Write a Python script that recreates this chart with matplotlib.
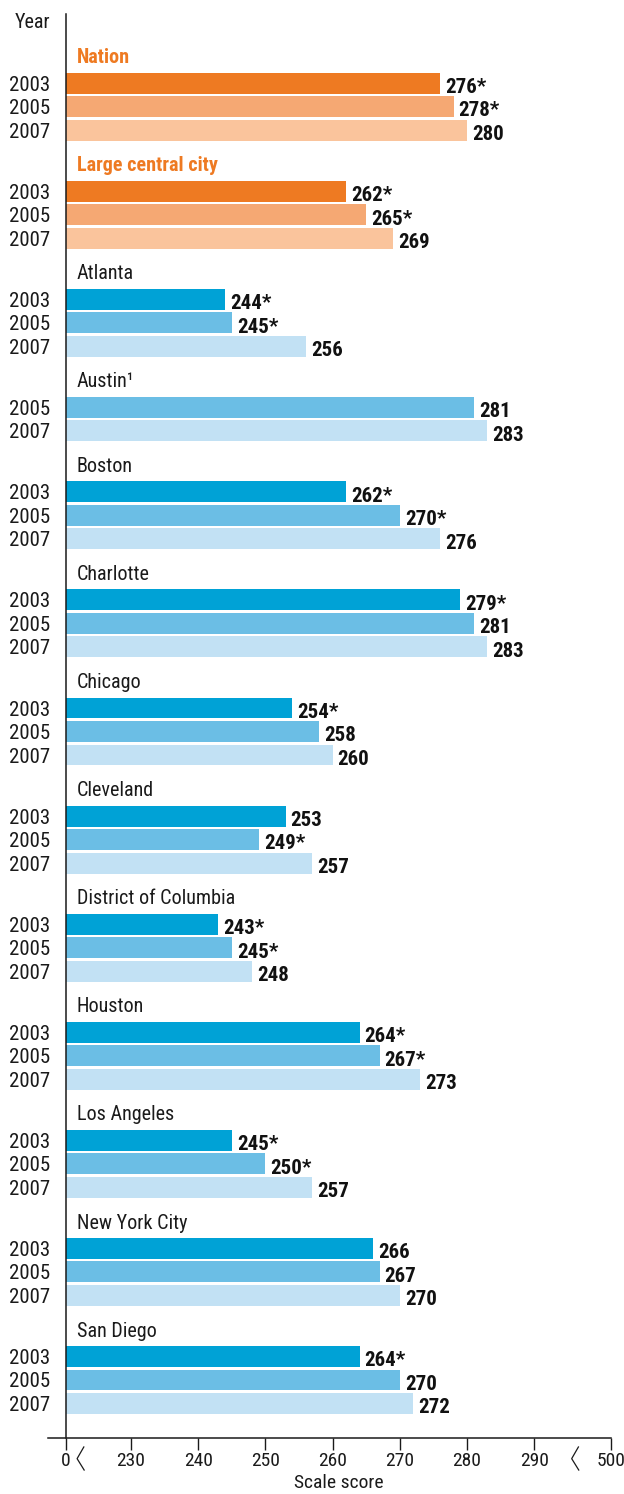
import matplotlib
matplotlib.use("Agg")
import matplotlib.pyplot as plt

plt.rcParams['font.family'] = ['Roboto Condensed', 'Archivo Narrow', 'PT Sans Narrow',
                               'Liberation Sans Narrow', 'DejaVu Sans']

# data
groups = ["Nation", "Large central city", "Atlanta", "Austin\u00b9", "Boston", "Charlotte",
          "Chicago", "Cleveland", "District of Columbia", "Houston", "Los Angeles",
          "New York City", "San Diego"]
years = ["2003", "2005", "2007"]
scores_2003 = [276, 262, 244, None, 262, 279, 254, 253, 243, 264, 245, 266, 264]
scores_2005 = [278, 265, 245, 281, 270, 281, 258, 249, 245, 267, 250, 267, 270]
scores_2007 = [280, 269, 256, 283, 276, 283, 260, 257, 248, 273, 257, 270, 272]
signif_2003 = [True, True, True, False, True, True, True, False, True, True, True, False, True]
signif_2005 = [True, True, True, False, True, False, False, True, True, True, True, False, False]
signif_2007 = [False] * 13
highlight = ["Nation", "Large central city"]
tick_values = [0, 230, 240, 250, 260, 270, 280, 290, 500]

orange = ["#ee7a22", "#f5a873", "#fac49c"]
blue = ["#00a2d6", "#6bbee5", "#c2e1f4"]
title_orange = "#ee7a22"
ink = "#1a1a1a"


# broken axis: 0 | 230..290 | 500
def to_pos(v):
    if v == 0:
        return 0.0
    if v == 500:
        return 81.1
    return v - 220.32


fig = plt.figure(figsize=(6.24, 14.94), dpi=100)
W, H = 624, 1494
ax = fig.add_axes([48 / W, (H - 1438) / H, (611 - 48) / W, (1438 - 14) / H])

series = [scores_2003, scores_2005, scores_2007]
signif = [signif_2003, signif_2005, signif_2007]

ytick_pos, ytick_lab = [], []
cur = 0.0
for gi, name in enumerate(groups):
    is_hl = name in highlight
    cols = orange if is_hl else blue
    ax.text(1.6, cur - 1.08, name, ha='left', va='center', fontsize=14.5,
            fontweight='bold' if is_hl else 'normal',
            color=title_orange if is_hl else ink)
    k = 0
    for si in range(3):
        v = series[si][gi]
        if v is None:
            continue
        y = cur + k
        ax.barh(y, to_pos(v), height=0.89, color=cols[si], left=0)
        lab = str(v) + ("*" if signif[si][gi] else "")
        ax.text(to_pos(v) + 0.75, y + 0.42, lab, ha='left', va='baseline',
                fontsize=15, fontweight='bold', color='#111111')
        ytick_pos.append(y)
        ytick_lab.append(years[si])
        k += 1
    cur += k + 1.6

last = cur - 1.6 - 1
ax.set_ylim(last + 1.47, -2.94)
ax.set_xlim(-2.68, 81.1)

ax.set_yticks(ytick_pos)
ax.set_yticklabels(ytick_lab)
ax.set_xticks([to_pos(v) for v in tick_values])
ax.set_xticklabels([str(v) for v in tick_values])
ax.tick_params(axis='y', length=0, pad=11.5, labelsize=15, labelcolor=ink)
ax.tick_params(axis='x', direction='out', length=8.5, width=1, pad=1.5,
               color=ink, labelsize=14, labelcolor=ink)

for s in ['top', 'right']:
    ax.spines[s].set_visible(False)
ax.spines['left'].set_position(('data', 0))
for s in ['left', 'bottom']:
    ax.spines[s].set_linewidth(1.1)
    ax.spines[s].set_color(ink)

# axis break marks below the axis
tr = ax.get_xaxis_transform()
for xb in [2.1, 75.7]:
    ax.plot([xb + 0.55, xb - 0.45, xb + 0.6], [-0.0063, -0.0145, -0.0225],
            transform=tr, clip_on=False, color=ink, lw=0.9)

ax.set_xlabel("Scale score", fontsize=14, color=ink)
ax.xaxis.set_label_coords((339 - 48) / (611 - 48), -0.0255)

fig.text(50 / W, 1 - 22 / H, "Year", ha='right', va='center', fontsize=14.5, color=ink)

fig.savefig("out.png", dpi=100)
